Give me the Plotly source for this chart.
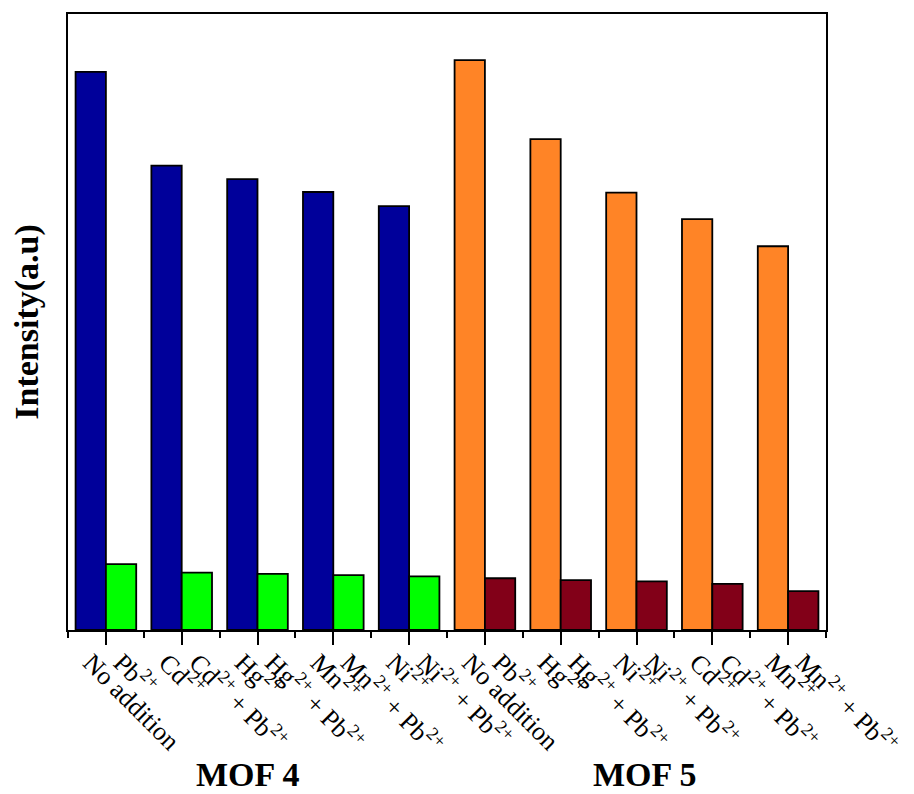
import plotly.graph_objects as go

# ---- data ----
groups = [1, 2, 3, 4, 5, 6, 7, 8, 9, 10]
ion_labels = ["No addition", "Cd<sup>2+</sup>", "Hg<sup>2+</sup>", "Mn<sup>2+</sup>", "Ni<sup>2+</sup>",
              "No addition", "Hg<sup>2+</sup>", "Ni<sup>2+</sup>", "Cd<sup>2+</sup>", "Mn<sup>2+</sup>"]
pb_labels = ["Pb<sup>2+</sup>", "Cd<sup>2+</sup> + Pb<sup>2+</sup>", "Hg<sup>2+</sup> + Pb<sup>2+</sup>",
             "Mn<sup>2+</sup> + Pb<sup>2+</sup>", "Ni<sup>2+</sup> + Pb<sup>2+</sup>",
             "Pb<sup>2+</sup>", "Hg<sup>2+</sup> + Pb<sup>2+</sup>", "Ni<sup>2+</sup> + Pb<sup>2+</sup>",
             "Cd<sup>2+</sup> + Pb<sup>2+</sup>", "Mn<sup>2+</sup> + Pb<sup>2+</sup>"]
ion_values = [906, 754, 732, 711, 688, 925, 797, 710, 667, 623]
pb_values = [107, 93, 91, 89, 87, 84, 81, 79, 75, 63]
ion_colors = ["#00009A"] * 5 + ["#FF8426"] * 5
pb_colors = ["#00FF00"] * 5 + ["#820018"] * 5
mof_titles = ["MOF 4", "MOF 5"]
mof_pos = [2.88, 8.11]

FONT = "Liberation Serif, Times New Roman, serif"

fig = go.Figure()
fig.add_trace(go.Bar(x=groups, y=ion_values, marker=dict(color=ion_colors, line=dict(color="black", width=1.8)),
                     showlegend=False, hoverinfo="skip"))
fig.add_trace(go.Bar(x=groups, y=pb_values, marker=dict(color=pb_colors, line=dict(color="black", width=1.8)),
                     showlegend=False, hoverinfo="skip"))

# bar-centre label positions
label_pos = []
label_txt = []
for g, a, b in zip(groups, ion_labels, pb_labels):
    label_pos += [g - 0.2, g + 0.2]
    label_txt += [a, b]

fig.add_trace(go.Scatter(x=label_pos, y=[0] * len(label_pos), xaxis="x2", mode="markers",
                         marker=dict(opacity=0), showlegend=False, hoverinfo="skip"))

fig.update_layout(
    width=914, height=794,
    margin=dict(l=68, r=88, t=14, b=164),
    paper_bgcolor="white", plot_bgcolor="white",
    barmode="group", bargap=0.2, bargroupgap=0,
    font=dict(family=FONT, color="black"),
    xaxis=dict(range=[0.5, 10.5], tickvals=groups, ticks="outside", ticklen=13, tickwidth=2,
               tickcolor="black", showticklabels=False, showline=True, linecolor="black",
               linewidth=2, mirror=True, showgrid=False, zeroline=False, automargin=False,
               minor=dict(tickvals=[g - 0.5 for g in groups] + [10.5], ticks="outside", ticklen=6,
                          tickwidth=2, tickcolor="black")),
    xaxis2=dict(range=[0.5, 10.5], overlaying="x", anchor="y", side="bottom",
                tickvals=label_pos, ticktext=label_txt, tickangle=45,
                ticks="outside", ticklen=6, tickcolor="rgba(0,0,0,0)",
                tickfont=dict(family=FONT, size=26, color="black"), automargin=False,
                showline=False, showgrid=False, zeroline=False),
    yaxis=dict(range=[0, 1000], showticklabels=False, ticks="", showline=True, linecolor="black",
               linewidth=2, mirror=True, showgrid=False, zeroline=False, automargin=False,
               title=dict(text="<b>Intensity(a.u)</b>", font=dict(family=FONT, size=34), standoff=17)),
)

for t, xp in zip(mof_titles, mof_pos):
    fig.add_annotation(text="<b>" + t + "</b>", x=xp, xref="x", y=-0.235, yref="paper",
                       yanchor="middle", xanchor="center", showarrow=False,
                       font=dict(family=FONT, size=34, color="black"))

fig.write_html("out.html", config={"displayModeBar": False},
               post_script="document.body.style.margin='0';document.body.style.overflow='hidden';")
